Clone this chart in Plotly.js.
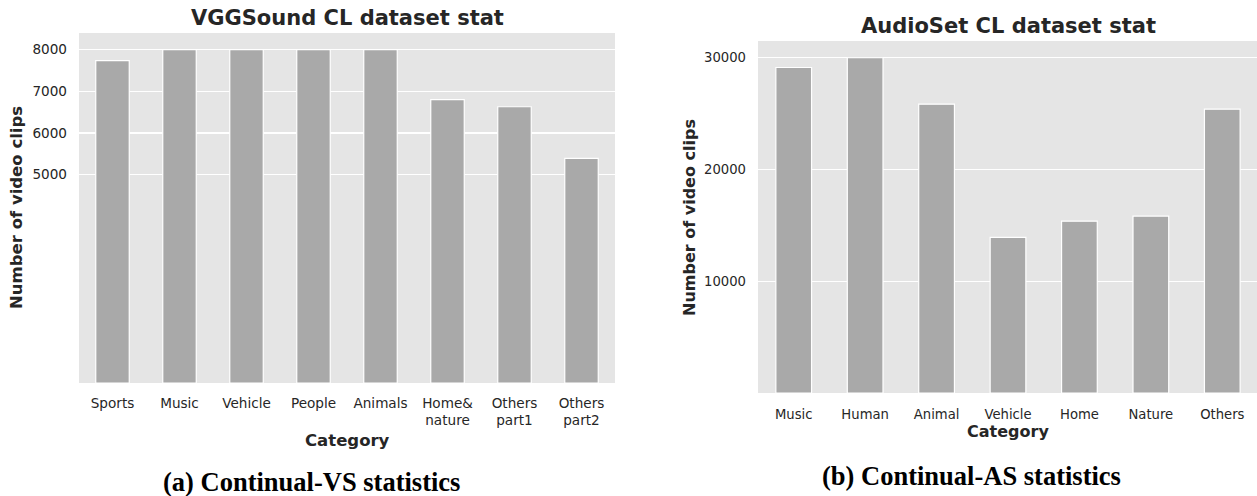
<!DOCTYPE html>
<html>
<head>
<meta charset="utf-8">
<script src="https://cdn.plot.ly/plotly-3.0.1.min.js"></script>
<style>html,body{margin:0;padding:0;background:#fff;}#chart{width:1257px;height:496px;}</style>
</head>
<body>
<div id="chart"></div>
<script>
// Data
const vsCategories = ["Sports", "Music", "Vehicle", "People", "Animals", "Home&<br>nature", "Others<br>part1", "Others<br>part2"];
const vsCounts = [7735, 8000, 8000, 8000, 8000, 6800, 6630, 5390];
const vsTicks = [5000, 6000, 7000, 8000];

const asCategories = ["Music", "Human", "Animal", "Vehicle", "Home", "Nature", "Others"];
const asCounts = [29130, 30000, 25850, 13920, 15380, 15830, 25400];
const asTicks = [10000, 20000, 30000];

const W = 1257, H = 496;
const px = v => v / W;
const py = v => 1 - v / H;

const barStyle = {color: "#a9a9a9", line: {color: "#ffffff", width: 1.2}};
const txt = "#262626";

const traces = [
  {type: "bar", x: vsCategories, y: vsCounts, marker: barStyle, xaxis: "x", yaxis: "y"},
  {type: "bar", x: asCategories, y: asCounts, marker: barStyle, xaxis: "x2", yaxis: "y2"}
];

const L = {x0: 79, x1: 615, y0: 33, y1: 383};
const R = {x0: 758, x1: 1258, y0: 41, y1: 393};

function xAxis(dom, anchor, range, fs, standoff) {
  return {domain: dom, anchor: anchor, range: range, showgrid: false, zeroline: false, showline: false,
    ticks: "", tickfont: {family: "DejaVu Sans", size: fs, color: txt}, ticklabelstandoff: standoff};
}
function yAxis(dom, anchor, range, vals, fs, standoff) {
  return {domain: dom, anchor: anchor, range: range, showgrid: true, gridcolor: "#ffffff", gridwidth: 1.2,
    zeroline: false, showline: false, ticks: "", tickmode: "array", tickvals: vals, ticktext: vals.map(String),
    tickfont: {family: "DejaVu Sans", size: fs, color: txt}, ticklabelstandoff: standoff};
}

const stepR = (R.x1 - R.x0) / 7;

function ann(text, x, y, size, opts) {
  return Object.assign({text: text, xref: "paper", yref: "paper", x: px(x), y: py(y),
    xanchor: "center", yanchor: "middle", showarrow: false,
    font: {family: "DejaVu Sans", size: size, color: txt, weight: "bold"}}, opts || {});
}

const layout = {
  width: W, height: H,
  margin: {l: 0, r: 0, t: 0, b: 0},
  paper_bgcolor: "#ffffff",
  plot_bgcolor: "#e5e5e5",
  showlegend: false,
  bargap: 0.5,
  xaxis: xAxis([px(L.x0), px(L.x1)], "y", [-0.5, 7.5], 13.6, 10),
  yaxis: yAxis([py(L.y1), py(L.y0)], "x", [0, 8400], vsTicks, 13.6, 11),
  xaxis2: xAxis([px(R.x0), 1], "y2", [-0.5, 6.5 - (R.x1 - W) / stepR], 13.2, 12),
  yaxis2: yAxis([py(R.y1), py(R.y0)], "x2", [0, 31500], asTicks, 13.2, 11),
  annotations: [
    ann("VGGSound CL dataset stat", (L.x0 + L.x1) / 2, 17.5, 21),
    ann("AudioSet CL dataset stat", (R.x0 + R.x1) / 2, 26, 21),
    ann("Category", (L.x0 + L.x1) / 2, 440, 16.5),
    ann("Category", (R.x0 + R.x1) / 2, 431, 16),
    ann("Number of video clips", 16, (L.y0 + L.y1) / 2, 16.5, {textangle: -90}),
    ann("Number of video clips", 689, (R.y0 + R.y1) / 2, 16, {textangle: -90}),
    ann("(a) Continual-VS statistics", 311, 482, 26.5,
      {font: {family: "Liberation Serif", size: 26.5, color: "#000000", weight: "bold"}}),
    ann("(b) Continual-AS statistics", 971, 476, 26.5,
      {font: {family: "Liberation Serif", size: 26.5, color: "#000000", weight: "bold"}})
  ]
};

Plotly.newPlot("chart", traces, layout, {displayModeBar: false, staticPlot: true});
</script>
</body>
</html>
